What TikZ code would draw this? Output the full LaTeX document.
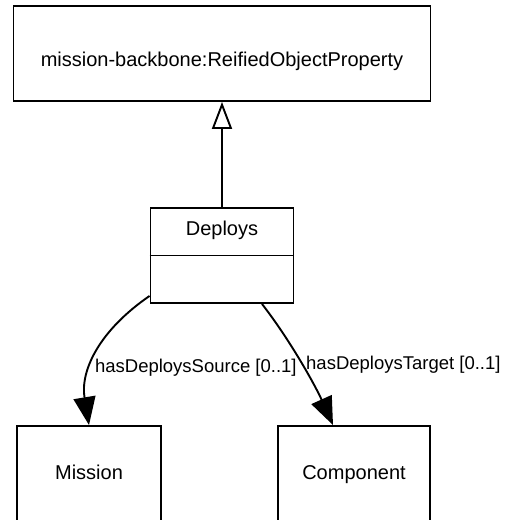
\documentclass[tikz,border=0pt]{standalone}
\usepackage{fontspec}
\setmainfont{Liberation Sans}
\usetikzlibrary{arrows.meta}

\begin{document}
\begin{tikzpicture}[x = 1pt, y = -1pt, line width = 1.9pt,
                        classbox/.style = {rectangle, draw, fill = white, minimum height = 95pt, inner sep = 0pt,
                                           text height = 15pt, text depth = 3pt},
                        classname/.style = {font = \fontsize{20}{24}\selectfont, inner sep = 0pt},
                        rolename/.style = {font = \fontsize{18.5}{22}\selectfont, inner sep = 2pt, anchor = west},
                        isa/.style = {-{Triangle[open, length = 27pt, width = 20pt]}},
                        role/.style = {-{Triangle[length = 28pt, width = 22pt]}}]
      \useasboundingbox (0, 0) rectangle (508, 520);
      \node [classbox, minimum width = 417pt] (reified) at (222, 53.5){};
      \node [classname] (reifiedname) at (222, 61){mission-backbone:ReifiedObjectProperty};
      \node [classbox, minimum width = 143pt] (deploys) at (222, 255.5){};
      \node [classname] (deploysname) at (222, 230){Deploys};
      \node [classbox, minimum width = 144pt, font = \fontsize{20}{24}\selectfont] (mission) at (89, 473.5){Mission};
      \node [classbox, minimum width = 152pt, font = \fontsize{20}{24}\selectfont] (component) at (354, 473.5){Component};
      \draw (deploys.west) -- (deploys.east);
      \draw [isa] (deploys.north) -- (reified.south);
      \draw [role] ([yshift = 8pt]deploys.south west) .. controls (100, 330) and (80, 370) .. (mission.north)
            node [rolename, pos = 0.6, yshift = -2pt] {hasDeploysSource [0..1]};
      \draw [role] ([xshift = 40pt]deploys.south) .. controls (290, 340) and (315, 385) .. ([xshift = -21pt]component.north)
            node [rolename, pos = 0.5, inner sep = 4pt, yshift = -2pt] {hasDeploysTarget [0..1]};
    \end{tikzpicture}
\end{document}
